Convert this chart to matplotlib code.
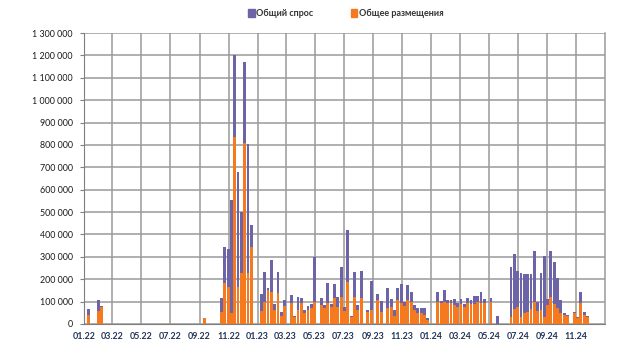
import matplotlib
matplotlib.use("Agg")
import matplotlib.pyplot as plt
from matplotlib.ticker import FuncFormatter, MultipleLocator
from matplotlib.patches import Patch
import pandas as pd
import numpy as np

# Weekly values, thousands
demand_2022 = [0, 65, 0, 0, 105, 80] + [0] * 30 + [28, 0, 0, 0, 0,
               115, 342, 333, 553, 1200, 678, 500, 1170, 803, 444, 0]
placement_2022 = [0, 40, 0, 0, 60, 75] + [0] * 30 + [25, 0, 0, 0, 0,
                  55, 182, 167, 49, 836, 167, 227, 810, 230, 345, 0]

demand_2023 = [0, 134, 233, 160, 286, 89, 233, 55, 107, 0, 129, 35, 122, 115,
               62, 80, 89, 300, 0, 118, 83, 181, 89, 178, 122, 256, 74, 420,
               35, 231, 83, 237, 0, 62, 192, 0, 134, 104, 0, 159, 110, 62, 159,
               178, 100, 174, 144, 83, 73, 70, 70, 25]
placement_2023 = [0, 60, 100, 150, 144, 62, 137, 35, 80, 0, 92, 30, 62, 92,
                  47, 62, 70, 100, 0, 85, 70, 92, 77, 114, 77, 120, 60, 189,
                  30, 122, 62, 114, 0, 55, 62, 0, 107, 55, 0, 70, 77, 35, 107,
                  92, 80, 107, 100, 62, 47, 47, 40, 20]

demand_2024 = [0, 0, 141, 103, 152, 107, 107, 110, 92, 110, 89, 118, 107, 126,
               126, 144, 110, 0, 115, 0, 35, 0, 0, 0, 253, 311, 236, 229, 222,
               222, 222, 327, 100, 229, 303, 110, 325, 278, 204, 107, 50, 40,
               0, 55, 31, 144, 55, 36, 0, 0, 0, 0, 0]
placement_2024 = [0, 0, 100, 95, 100, 95, 95, 85, 77, 89, 77, 95, 89, 89,
                  100, 92, 95, 0, 100, 0, 0, 0, 0, 0, 33, 69, 77, 33, 48,
                  55, 69, 100, 60, 62, 33, 84, 120, 90, 70, 50, 40, 35,
                  0, 50, 25, 95, 40, 30, 0, 0, 0, 0, 0]

demand = np.array(demand_2022 + demand_2023 + demand_2024) * 1000
placement = np.array(placement_2022 + placement_2023 + placement_2024) * 1000
weeks = pd.date_range("2022-01-03", periods=len(demand), freq="7D")

series_labels = ["Общий спрос", "Общее размещения"]
purple = "#6C64A6"
orange = "#F57A1F"

plt.rcParams["font.family"] = ["Lato", "DejaVu Sans"]

fig = plt.figure(figsize=(6.2, 3.59), dpi=100)
ax = fig.add_axes([0.1355, 0.0975, 0.8405, 0.8105])

ax.bar(weeks, demand, width=6.0, color=purple, zorder=3, linewidth=0)
ax.bar(weeks, placement, width=6.0, color=orange, zorder=4, linewidth=0)

ax.set_ylim(0, 1300000)
ax.yaxis.set_major_locator(MultipleLocator(100000))
ax.yaxis.set_major_formatter(FuncFormatter(lambda v, p: f"{int(v):,}".replace(",", " ")))

ax.set_xlim(pd.Timestamp("2022-01-01"), pd.Timestamp("2025-01-01"))
ticks = pd.date_range("2022-01-01", "2024-11-01", freq="2MS")
ax.set_xticks(ticks)
ax.set_xticklabels([t.strftime("%m.%y") for t in ticks])

ax.grid(True, axis="both", color="#9a9a9a", linewidth=1.1, zorder=0)
ax.spines["top"].set_visible(False)
ax.spines["right"].set_color("#9a9a9a")
ax.spines["right"].set_linewidth(1.1)
ax.spines["left"].set_color("#7f7f7f")
ax.spines["bottom"].set_color("#7f7f7f")

ax.tick_params(axis="y", labelsize=6.4, colors="#7f7f7f", labelcolor="#1a1a1a", length=3, pad=5)
ax.tick_params(axis="x", labelsize=6.4, colors="#7f7f7f", labelcolor="#24365a", length=0, pad=6)
for lab in ax.get_xticklabels():
    lab.set_fontweight("bold")

handles = [Patch(color=purple), Patch(color=orange)]
leg = fig.legend(handles, series_labels, loc="center", bbox_to_anchor=(0.558, 0.962), ncol=2,
                 frameon=False, fontsize=6.5, handlelength=0.7, handleheight=0.9,
                 handletextpad=0.15, columnspacing=4.2, labelcolor="#333333")
for t in leg.get_texts():
    t.set_fontweight("bold")

fig.savefig("out.png", dpi=100)
